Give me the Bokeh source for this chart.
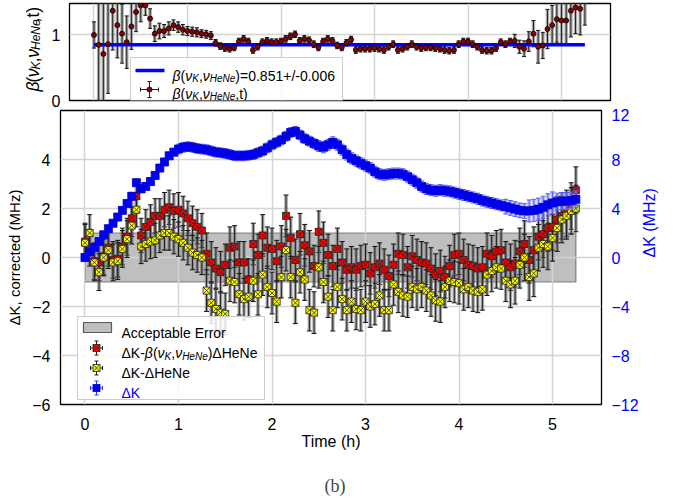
import math
from bokeh.plotting import figure
from bokeh.models import ColumnDataSource, Range1d, LinearAxis, FixedTicker, Label
from bokeh.layouts import column, row
from bokeh.embed import file_html
from bokeh.resources import INLINE

# ---------------- data ----------------
time_h = [0.00, 0.05, 0.10, 0.15, 0.20, 0.25, 0.30, 0.35, 0.40, 0.45,
          0.50, 0.55, 0.60, 0.65, 0.70, 0.75, 0.80, 0.85, 0.90, 0.95,
          1.00, 1.05, 1.10, 1.15, 1.20, 1.25, 1.30, 1.35, 1.40, 1.45,
          1.50, 1.55, 1.60, 1.65, 1.70, 1.75, 1.80, 1.85, 1.90, 1.95,
          2.00, 2.05, 2.10, 2.15, 2.20, 2.25, 2.30, 2.35, 2.40, 2.45,
          2.50, 2.55, 2.60, 2.65, 2.70, 2.75, 2.80, 2.85, 2.90, 2.95,
          3.00, 3.05, 3.10, 3.15, 3.20, 3.25, 3.30, 3.35, 3.40, 3.45,
          3.50, 3.55, 3.60, 3.65, 3.70, 3.75, 3.80, 3.85, 3.90, 3.95,
          4.00, 4.05, 4.10, 4.15, 4.20, 4.25, 4.30, 4.35, 4.40, 4.45,
          4.50, 4.55, 4.60, 4.65, 4.70, 4.75, 4.80, 4.85, 4.90, 4.95,
          5.00, 5.05, 5.10, 5.15, 5.20, 5.25]

# Delta K (MHz, right axis)
dk_mhz = [0.00, 0.45, 0.80, 1.30, 1.85, 2.35, 2.80, 3.30, 3.85, 4.40,
          5.00, 6.10, 5.60, 5.80, 6.20, 6.70, 7.30, 7.80, 8.30, 8.60,
          8.85, 9.00, 9.05, 9.00, 8.90, 8.85, 8.80, 8.70, 8.60, 8.55,
          8.50, 8.40, 8.30, 8.30, 8.30, 8.35, 8.40, 8.55, 8.70, 8.95,
          9.20, 9.40, 9.60, 9.90, 10.20, 10.30, 10.00, 9.70, 9.50, 9.30,
          9.10, 9.00, 9.20, 9.40, 9.20, 8.80, 8.40, 8.10, 7.90, 7.70,
          7.50, 7.30, 7.00, 6.80, 6.75, 6.80, 6.85, 6.85, 6.80, 6.60,
          6.35, 6.10, 5.80, 5.60, 5.50, 5.45, 5.50, 5.45, 5.40, 5.30,
          5.20, 5.10, 5.00, 4.90, 4.80, 4.65, 4.55, 4.45, 4.35, 4.25,
          4.15, 4.05, 3.95, 3.85, 3.80, 3.80, 3.85, 3.95, 4.10, 4.30,
          4.45, 4.55, 4.60, 4.60, 4.65, 4.75]
dk_err = [0.30, 0.30, 0.30, 0.30, 0.30, 0.30, 0.30, 0.30, 0.30, 0.30,
          0.30, 0.30, 0.30, 0.30, 0.30, 0.30, 0.30, 0.30, 0.30, 0.30,
          0.40, 0.40, 0.40, 0.40, 0.40, 0.40, 0.40, 0.40, 0.40, 0.40,
          0.40, 0.40, 0.40, 0.40, 0.40, 0.40, 0.40, 0.40, 0.40, 0.40,
          0.40, 0.40, 0.40, 0.40, 0.40, 0.40, 0.40, 0.40, 0.40, 0.40,
          0.45, 0.45, 0.45, 0.45, 0.45, 0.45, 0.45, 0.45, 0.45, 0.45,
          0.45, 0.45, 0.45, 0.45, 0.45, 0.45, 0.45, 0.45, 0.45, 0.45,
          0.45, 0.45, 0.45, 0.45, 0.45, 0.45, 0.45, 0.45, 0.45, 0.45,
          0.45, 0.45, 0.45, 0.45, 0.45, 0.45, 0.45, 0.45, 0.45, 0.45,
          0.60, 0.60, 0.60, 0.60, 0.60, 0.90, 0.90, 0.90, 0.90, 0.90,
          0.90, 0.70, 0.70, 0.70, 0.70, 0.70]

# Delta K - beta * Delta HeNe (MHz, left axis)
corr_beta = [0.65, 0.40, -0.15, -0.20, 0.05, 0.40, -0.10, -0.05, 0.45, 0.85,
             1.60, 2.50, 0.90, 1.25, 1.45, 1.70, 1.70, 1.95, 2.05, 1.90,
             1.95, 1.80, 1.60, 1.40, 1.25, 1.10, 0.15, -0.20, -0.45, -0.60,
             -0.30, 0.40, 0.45, -0.20, -0.20, -0.90, 0.55, 0.10, 0.90, 0.40,
             0.35, -0.15, 0.45, 1.70, 0.80, -0.10, 0.95, 0.50, 0.25, -0.35,
             1.05, 0.60, 0.10, -0.35, 0.35, -0.20, -0.50, -0.40, -0.50, -0.35,
             -0.30, -0.65, -0.40, -0.25, -0.50, -0.75, -0.30, 0.15, 0.10, -0.40,
             0.05, -0.10, -0.20, -0.25, -0.45, -0.70, -0.55, -0.80, -0.35, 0.10,
             0.15, -0.10, -0.30, -0.35, -0.45, -0.40, 0.15, 0.05, 0.25, 0.30,
             -0.20, -0.40, -0.25, 0.25, 0.55, -0.10, 0.30, 0.85, 0.95, 1.20,
             1.25, 1.55, 1.70, 1.80, 2.10, 2.75]
# Delta K - Delta HeNe (MHz, left axis)
corr_plain = [0.60, 1.00, -0.20, -0.60, 0.00, 0.30, -0.20, -0.15, 0.35, 0.75,
              1.30, 1.95, 0.45, 0.55, 0.65, 0.70, 0.90, 1.00, 1.00, 0.85,
              0.75, 0.60, 0.40, 0.20, 0.10, 0.00, -1.35, -1.85, -2.10, -2.25,
              -2.30, -0.95, -1.00, -1.50, -1.70, -1.60, -0.95, -1.50, -0.70, -1.20,
              -1.45, -1.80, -0.80, 0.30, -0.80, -1.85, -0.60, -0.90, -2.15, -2.25,
              -0.40, -1.00, -1.60, -2.15, -1.20, -1.70, -2.15, -1.80, -2.10, -2.15,
              -1.80, -2.00, -1.90, -1.55, -2.15, -2.15, -1.10, -1.40, -1.55, -1.60,
              -1.20, -1.30, -1.20, -1.35, -1.55, -1.75, -1.80, -1.20, -0.95, -1.00,
              -1.05, -1.30, -1.20, -1.35, -1.40, -1.30, -0.70, -0.55, -0.40, -0.45,
              -0.95, -1.10, -0.95, -0.30, 0.00, -0.80, -0.65, 0.40, 0.55, 0.45,
              0.80, 1.20, 1.55, 1.70, 1.90, 2.00]
corr_err = [0.75, 0.75, 0.75, 0.75, 0.75, 0.75, 0.75, 0.75, 0.75, 0.75,
            0.75, 0.70, 0.70, 0.70, 0.70, 0.70, 0.70, 0.70, 0.70, 0.70,
            0.70, 0.70, 0.70, 0.70, 0.70, 0.70, 0.85, 0.85, 0.85, 0.85,
            0.85, 0.85, 0.85, 0.85, 0.85, 0.85, 0.85, 0.85, 0.85, 0.85,
            0.85, 0.85, 0.85, 0.85, 0.85, 0.85, 0.85, 0.85, 0.85, 0.85,
            0.85, 0.85, 0.85, 0.85, 0.85, 0.85, 0.85, 0.85, 0.85, 0.85,
            0.85, 0.85, 0.85, 0.85, 0.85, 0.85, 0.85, 0.85, 0.85, 0.85,
            0.85, 0.85, 0.85, 0.85, 0.85, 0.85, 0.85, 0.85, 0.85, 0.85,
            0.85, 0.85, 0.85, 0.85, 0.85, 0.85, 0.85, 0.85, 0.85, 0.85,
            0.85, 0.95, 0.95, 0.95, 0.95, 0.95, 0.95, 0.95, 0.95, 0.95,
            0.95, 0.95, 0.95, 0.95, 0.95, 0.95]

# beta(nu_K, nu_HeNe, t) (top panel)
beta_t = [1.00, 0.85, 0.71, 0.86, 1.37, 1.15, 1.02, 0.89, 1.13, 1.35,
          1.45, 1.45, 1.25, 1.02, 1.06, 1.06, 1.10, 1.15, 1.12, 1.08,
          1.06, 1.05, 1.04, 1.02, 1.01, 0.99, 0.88, 0.83, 0.80, 0.79,
          0.81, 0.90, 0.94, 0.90, 0.77, 0.82, 0.89, 0.91, 0.89, 0.89,
          0.90, 0.94, 0.98, 1.01, 0.91, 0.94, 0.92, 0.86, 0.81, 0.90,
          0.94, 0.91, 0.84, 0.81, 0.88, 0.93, 0.77, 0.79, 0.79, 0.79,
          0.80, 0.79, 0.77, 0.82, 0.86, 0.77, 0.79, 0.82, 0.86, 0.82,
          0.80, 0.81, 0.81, 0.80, 0.79, 0.77, 0.76, 0.77, 0.86, 0.90,
          0.90, 0.86, 0.82, 0.77, 0.76, 0.76, 0.80, 0.89, 0.86, 0.90,
          0.91, 0.82, 0.79, 0.90, 1.02, 0.82, 0.84, 1.09, 1.15, 1.24,
          1.22, 1.22, 1.37, 1.42, 1.40, 1.55]
beta_err = [0.20, 0.90, 0.85, 0.75, 0.60, 0.50, 0.45, 0.40, 0.35, 0.30,
            0.25, 0.15, 0.15, 0.12, 0.12, 0.10, 0.10, 0.08, 0.08, 0.08,
            0.07, 0.07, 0.07, 0.06, 0.06, 0.06, 0.05, 0.05, 0.05, 0.05,
            0.05, 0.05, 0.05, 0.05, 0.05, 0.05, 0.05, 0.05, 0.05, 0.05,
            0.05, 0.05, 0.05, 0.05, 0.05, 0.05, 0.05, 0.05, 0.05, 0.05,
            0.05, 0.05, 0.05, 0.05, 0.05, 0.05, 0.05, 0.05, 0.05, 0.05,
            0.05, 0.05, 0.05, 0.05, 0.05, 0.05, 0.05, 0.05, 0.05, 0.05,
            0.05, 0.05, 0.05, 0.05, 0.05, 0.05, 0.05, 0.05, 0.05, 0.05,
            0.05, 0.05, 0.05, 0.05, 0.05, 0.05, 0.05, 0.05, 0.05, 0.05,
            0.10, 0.10, 0.12, 0.15, 0.20, 0.25, 0.20, 0.30, 0.30, 0.35,
            0.35, 0.35, 0.40, 0.40, 0.40, 0.40]

beta_fit = 0.851
accept_err = 1.0

x_ticks = [0, 1, 2, 3, 4, 5]
left_ticks = [-6, -4, -2, 0, 2, 4]
right_ticks = [-12, -8, -4, 0, 4, 8, 12]
top_ticks = [0, 1]

# ---------------- geometry (page pixels; page has no margin) ----------------
FONT = "Liberation Sans"
XR = (-0.262, 5.524)
FW = 541
FRAME_LEFT = 60
TOP_FRAME_TOP, TOP_H = 3, 97          # top panel frame: page y 3..100
TOP_ROW_H = 108
MAIN_FRAME_TOP, MAIN_H = 110, 294      # main frame: page y 110..404
MAIN_ROW_H = 346
TOTAL_W = 670
YMAX_TOP = 1.48


def mx(px):
    return XR[0] + (px - FRAME_LEFT) / FW * (XR[1] - XR[0])


def my(py):
    return 6 - (py - MAIN_FRAME_TOP) / MAIN_H * 12


def ty(py):
    return (TOP_FRAME_TOP + TOP_H - py) / TOP_H * YMAX_TOP


WID = {' ': 0.278, '(': 0.333, ')': 0.333, ',': 0.278, '.': 0.278, '-': 0.333,
       '+': 0.584, '/': 0.278, '=': 0.584, 'A': 0.667, 'E': 0.667, 'H': 0.722,
       'K': 0.667, 'M': 0.833, 'N': 0.722, 'a': 0.556, 'b': 0.556, 'c': 0.5,
       'e': 0.556, 'l': 0.222, 'o': 0.556, 'p': 0.556, 'r': 0.333, 't': 0.278,
       'Δ': 0.668, 'β': 0.575, 'ν': 0.5}


def text_w(s, size):
    return sum(WID.get(c, 0.556) for c in s) * size


def compose(fig, pieces, px, py, fx, fy, vertical=False, color="black", sub_shift=3.0):
    for txt, italic, size, sub in pieces:
        if vertical:
            x = fx(px + (sub_shift if sub else 0.0))
            y = fy(py)
        else:
            x = fx(px)
            y = fy(py + (sub_shift if sub else 0.0))
        fig.add_layout(Label(x=x, y=y, text=txt, text_font=FONT,
                             text_font_size=f"{size}px",
                             text_font_style="italic" if italic else "normal",
                             text_color=color, text_align="left",
                             text_baseline="alphabetic",
                             angle=(math.pi / 2 if vertical else 0.0)))
        w = text_w(txt, size)
        if vertical:
            py -= w
        else:
            px += w


def blank(width, height):
    f = figure(width=width, height=height, title=None,
               x_range=Range1d(0, width), y_range=Range1d(0, height),
               x_axis_type=None, y_axis_type=None, output_backend="svg", toolbar_location=None,
               min_border_left=0, min_border_right=0, min_border_top=0, min_border_bottom=0)
    f.outline_line_color = None
    f.background_fill_color = "white"
    f.border_fill_color = "white"
    return f


def style_common(fig):
    fig.background_fill_color = "white"
    fig.border_fill_color = "white"
    fig.outline_line_color = "black"
    fig.outline_line_width = 1.3
    for g in (fig.xgrid[0], fig.ygrid[0]):
        g.grid_line_color = "#d4d4d4"
        g.grid_line_width = 1.5


def style_axis(ax, color="black"):
    ax.major_label_text_font = FONT
    ax.major_label_text_font_size = "16px"
    ax.major_label_text_color = color
    ax.major_tick_line_color = None
    ax.minor_tick_line_color = None
    ax.axis_line_color = None
    ax.axis_label_text_font = FONT
    ax.axis_label_text_font_size = "16px"
    ax.axis_label_text_font_style = "normal"
    ax.axis_label_text_color = color


def minus_overrides(ticks):
    return {t: (("\u2212" + str(abs(t))) if t < 0 else str(t)) for t in ticks}


def errorbars(fig, x, lo, hi, color, cap_color, fill_color=None, y_range_name="default",
              cap=5, fill_width=3.5, fill_alpha=0.6):
    src = ColumnDataSource(dict(x=x, lo=lo, hi=hi))
    if fill_color is not None:
        fig.segment(x0="x", y0="lo", x1="x", y1="hi", source=src, line_color=fill_color,
                    line_width=fill_width, line_alpha=fill_alpha, y_range_name=y_range_name)
    fig.segment(x0="x", y0="lo", x1="x", y1="hi", source=src, line_color=color,
                line_width=1, y_range_name=y_range_name)
    fig.scatter(x="x", y="lo", marker="dash", size=cap, line_color=cap_color, line_width=1,
                source=src, y_range_name=y_range_name)
    fig.scatter(x="x", y="hi", marker="dash", size=cap, line_color=cap_color, line_width=1,
                source=src, y_range_name=y_range_name)


S, s = 14, 10   # legend font sizes (main, subscript)

# ---------------- top row: label column + top panel ----------------
QLAB_W = 48
qlab = blank(QLAB_W, TOP_ROW_H)
L, l = 17.5, 12
# rotated labels render about one ascent to the right of the requested baseline
compose(qlab, [("β", True, L, False), ("(", False, L, False), ("ν", True, L, False),
               ("K", True, l, True), (",", False, L, False), ("ν", True, L, False),
               ("HeNe", True, l, True), (",t)", False, L, False)],
        32, 98, lambda px: px, lambda py: TOP_ROW_H - py, vertical=True, sub_shift=3.0)

q = figure(frame_width=FW, frame_height=TOP_H, x_range=Range1d(*XR), y_range=Range1d(0, YMAX_TOP),
           output_backend="svg", toolbar_location=None, title=None,
           min_border_left=FRAME_LEFT - QLAB_W, min_border_right=TOTAL_W - FRAME_LEFT - FW,
           min_border_top=TOP_FRAME_TOP, min_border_bottom=TOP_ROW_H - TOP_FRAME_TOP - TOP_H)
style_common(q)
q.xaxis.visible = False
q.xgrid[0].ticker = FixedTicker(ticks=x_ticks)
q.yaxis[0].ticker = FixedTicker(ticks=top_ticks)
q.ygrid[0].ticker = FixedTicker(ticks=top_ticks)
style_axis(q.yaxis[0])
q.yaxis[0].major_label_standoff = 3

b_lo = [v - e for v, e in zip(beta_t, beta_err)]
b_hi = [v + e for v, e in zip(beta_t, beta_err)]
errorbars(q, time_h, b_lo, b_hi, "#222222", "#111111", fill_color="#777777", cap=4)
q.line(x=[time_h[0], time_h[-1]], y=[beta_fit, beta_fit], line_color="#0000ff", line_width=3.5)
q.scatter(x=time_h, y=beta_t, marker="circle", size=5, fill_color="#8b0000", line_color="black",
          line_width=0.8)

# top legend
q.quad(left=mx(121), right=mx(333), bottom=ty(102), top=ty(57), fill_color="white",
       fill_alpha=0.85, line_color="#cccccc", line_width=1)
q.line(x=[mx(126), mx(155)], y=[ty(70), ty(70)], line_color="#0000ff", line_width=3.5)
q.segment(x0=[mx(140), mx(131)], y0=[ty(81), ty(89)], x1=[mx(140), mx(149)], y1=[ty(97), ty(89)],
          line_color="#222222", line_width=1)
q.scatter(x=[mx(140), mx(140)], y=[ty(81), ty(97)], marker="dash", size=4, line_color="#111111")
q.scatter(x=[mx(131), mx(149)], y=[ty(89), ty(89)], marker="dash", size=4, angle=math.pi / 2,
          line_color="#111111")
q.scatter(x=[mx(140)], y=[ty(89)], marker="circle", size=5, fill_color="#8b0000", line_color="black",
          line_width=0.8)

compose(q, [("β", True, S, False), ("(", False, S, False), ("ν", True, S, False),
            ("K", True, s, True), (",", False, S, False), ("ν", True, S, False),
            ("HeNe", True, s, True), (")=0.851+/-0.006", False, S, False)],
        163, 75, mx, ty)
compose(q, [("β", True, S, False), ("(", False, S, False), ("ν", True, S, False),
            ("K", True, s, True), (",", False, S, False), ("ν", True, S, False),
            ("HeNe", True, s, True), (",t)", False, S, False)],
        163, 93.5, mx, ty, sub_shift=2.5)

# ---------------- main panel ----------------
P_TOP = MAIN_FRAME_TOP - TOP_ROW_H
P_BOTTOM = MAIN_ROW_H - P_TOP - MAIN_H
p = figure(frame_width=FW, frame_height=MAIN_H, x_range=q.x_range, y_range=Range1d(-6, 6),
           output_backend="svg", toolbar_location=None, title=None,
           min_border_left=FRAME_LEFT, min_border_right=TOTAL_W - FRAME_LEFT - FW,
           min_border_top=P_TOP, min_border_bottom=P_BOTTOM)
p.extra_y_ranges = {"dk": Range1d(-12, 12)}
style_common(p)
p.xaxis[0].ticker = FixedTicker(ticks=x_ticks)
p.xgrid[0].ticker = FixedTicker(ticks=x_ticks)
p.yaxis[0].ticker = FixedTicker(ticks=left_ticks)
p.ygrid[0].ticker = FixedTicker(ticks=[-6, -4, -2, 0, 2, 4, 6])
p.yaxis[0].major_label_overrides = minus_overrides(left_ticks)
style_axis(p.xaxis[0])
style_axis(p.yaxis[0])
p.xaxis[0].axis_label = "Time (h)"
p.xaxis[0].major_label_standoff = 7
p.xaxis[0].axis_label_standoff = 0
p.yaxis[0].axis_label = "ΔK, corrected (MHz)"
p.yaxis[0].axis_label_text_font_size = "15px"
p.yaxis[0].major_label_standoff = 4
p.yaxis[0].axis_label_standoff = 6

rax = LinearAxis(y_range_name="dk", ticker=FixedTicker(ticks=right_ticks), axis_label="ΔK (MHz)")
style_axis(rax, color="#0000ff")
rax.major_label_overrides = minus_overrides(right_ticks)
rax.major_label_standoff = 4
rax.axis_label_standoff = 8
try:
    rax.axis_label_orientation = math.pi / 2
except Exception:
    pass
p.add_layout(rax, "right")

# acceptable error band
p.quad(left=time_h[0], right=time_h[-1], bottom=-accept_err, top=accept_err,
       fill_color="#808080", fill_alpha=0.5, line_color="#5a5a5a", line_alpha=0.7,
       line_width=1.2, level="image")

# red and yellow series
r_lo = [v - e for v, e in zip(corr_beta, corr_err)]
r_hi = [v + e for v, e in zip(corr_beta, corr_err)]
y_lo = [v - e for v, e in zip(corr_plain, corr_err)]
y_hi = [v + e for v, e in zip(corr_plain, corr_err)]
errorbars(p, time_h, r_lo, r_hi, "#222222", "#111111", fill_color="#6a6a6a")
errorbars(p, time_h, y_lo, y_hi, "#222222", "#111111", fill_color="#6a6a6a")
p.scatter(x=time_h, y=corr_beta, marker="square_x", size=7, fill_color="#ff0000",
          line_color="#222222", line_width=0.8)
p.scatter(x=time_h, y=corr_plain, marker="square_x", size=7, fill_color="#ffff00",
          line_color="#222222", line_width=0.8)

# blue series on the right axis
k_lo = [v - e for v, e in zip(dk_mhz, dk_err)]
k_hi = [v + e for v, e in zip(dk_mhz, dk_err)]
errorbars(p, time_h, k_lo, k_hi, "#5a5aff", "#5a5aff", fill_color="#7f7fff", y_range_name="dk",
          fill_width=4, fill_alpha=0.5)
p.scatter(x=time_h, y=dk_mhz, marker="square_x", size=8, fill_color="#0000ff",
          line_color="#0000cc", line_width=0.8, y_range_name="dk")

# main legend
p.quad(left=mx(77), right=mx(264), bottom=my(399), top=my(316), fill_color="white",
       fill_alpha=0.85, line_color="#cccccc", line_width=1)
p.quad(left=mx(83), right=mx(111), bottom=my(332), top=my(322), fill_color="#808080",
       fill_alpha=0.5, line_color="#5a5a5a", line_width=1.2)
for row_y, fc, lc, bc in [(347.5, "#ff0000", "#222222", "#222222"),
                          (367.5, "#ffff00", "#222222", "#222222"),
                          (387.5, "#0000ff", "#0000cc", "#3333ff")]:
    p.segment(x0=[mx(96), mx(90)], y0=[my(row_y - 7), my(row_y)],
              x1=[mx(96), mx(102)], y1=[my(row_y + 7), my(row_y)], line_color=bc, line_width=1)
    p.scatter(x=[mx(96), mx(96)], y=[my(row_y - 7), my(row_y + 7)], marker="dash", size=4,
              line_color=bc)
    p.scatter(x=[mx(90), mx(102)], y=[my(row_y), my(row_y)], marker="dash", size=4,
              angle=math.pi / 2, line_color=bc)
    p.scatter(x=[mx(96)], y=[my(row_y)], marker="square_x", size=7, fill_color=fc,
              line_color=lc, line_width=0.8)

compose(p, [("Acceptable Error", False, S, False)], 121, 332.5, mx, my)
compose(p, [("ΔK-", False, S, False), ("β", True, S, False), ("(", False, S, False),
            ("ν", True, S, False), ("K", True, s, True), (",", False, S, False),
            ("ν", True, S, False), ("HeNe", True, s, True), (")ΔHeNe", False, S, False)],
        121, 352.5, mx, my)
compose(p, [("ΔK-ΔHeNe", False, S, False)], 121, 372.5, mx, my)
compose(p, [("ΔK", False, S, False)], 121, 392.5, mx, my, color="#0000ff")

# ---------------- caption ----------------
CAP_H = 44
cap = blank(TOTAL_W, CAP_H)
cap_top = TOP_ROW_H + MAIN_ROW_H
cap.add_layout(Label(x=340, y=cap_top + CAP_H - 485, text="(b)", text_font="Liberation Serif",
                     text_font_size="18px", text_align="center", text_baseline="alphabetic"))

layout = column(row(qlab, q, spacing=0), p, cap, spacing=0)
open("out.html", "w").write(file_html(layout, INLINE))
